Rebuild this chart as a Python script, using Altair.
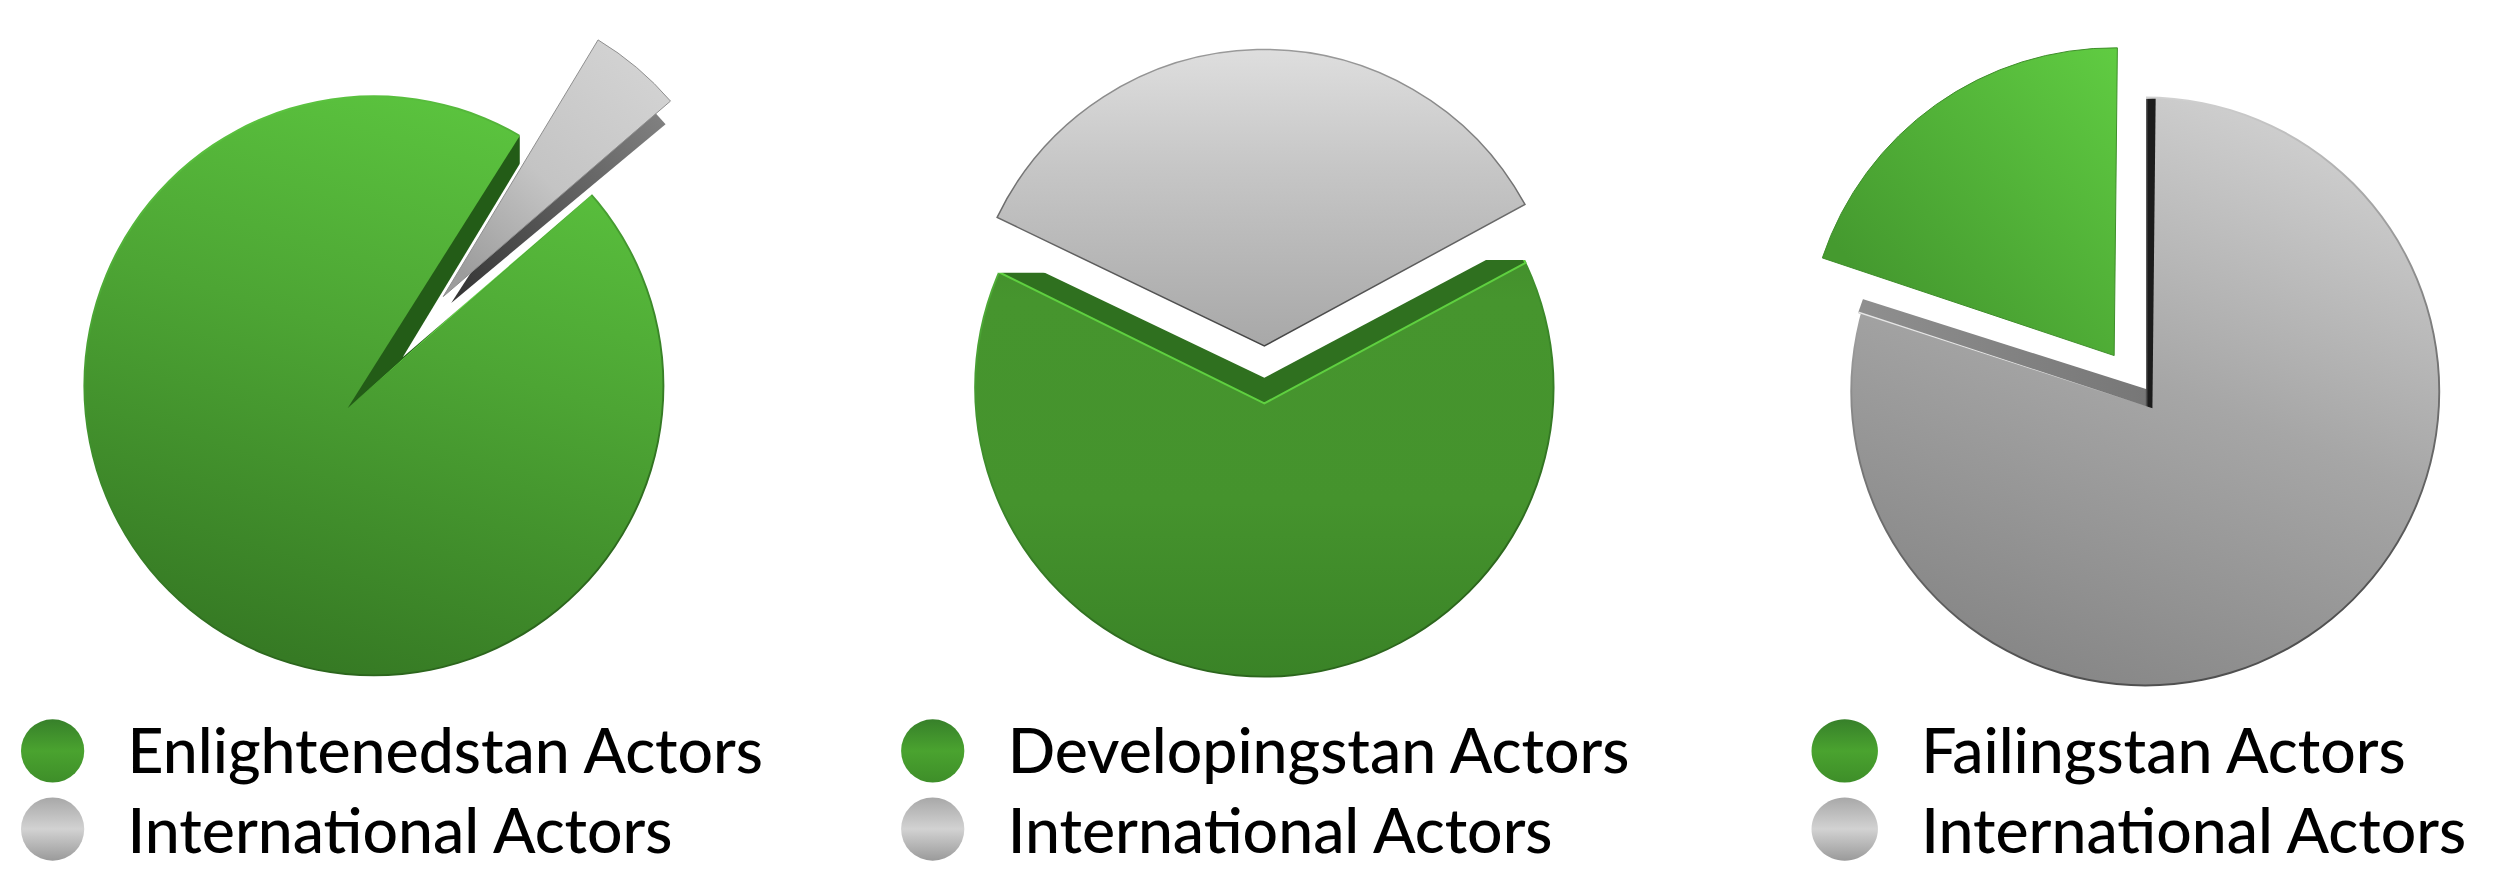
import altair as alt
import pandas as pd

# ---- values (slice extents, degrees clockwise from 12 o'clock)
pie1_international = [31.1, 49.3]
pie2_international = [295.7, 421.5]
pie3_local = [288.5, 360.6]
legend_local = ["Enlightenedstan Actors", "Developingstan Actors", "Failingstan Actors"]
legend_international = ["International Actors", "International Actors", "International Actors"]

S = 2500 / 1568


def G(stops, x1=0.0, y1=0.0, x2=0.0, y2=1.0):
    return alt.LinearGradient(
        gradient="linear", x1=x1, y1=y1, x2=x2, y2=y2,
        stops=[alt.GradientStop(color=c, offset=o) for o, c in stops],
    )


def sector(a, cx, cy, r, fill, stroke=None, sw=0.0):
    df = pd.DataFrame({"a0": [a[0]], "a1": [a[1]]})
    kw = {"radius": r * S, "fill": fill}
    if stroke is not None:
        kw["stroke"] = stroke
        kw["strokeWidth"] = sw
    else:
        kw["strokeWidth"] = 0
    return alt.Chart(df).mark_arc(**kw).encode(
        x=alt.value(cx * S - 8),
        y=alt.value(cy * S - 8),
        theta=alt.Theta("a0:Q", scale=alt.Scale(domain=[0, 360], range=[0, 6.283185307])),
        theta2=alt.Theta2("a1:Q"),
    )


def mask(x0, x1, y0, y1):
    return alt.Chart(pd.DataFrame({"k": [0]})).mark_rect(fill="#ffffff", strokeWidth=0).encode(
        x=alt.value(x0 * S - 8), x2=alt.value(x1 * S - 8),
        y=alt.value(y0 * S - 8), y2=alt.value(y1 * S - 8),
    )


GREEN1 = G([(0, "#5cc63f"), (0.45, "#4da534"), (1, "#367a24")], 0.75, 0, 0.45, 1)
GREEN2 = G([(0, "#397f27"), (0.35, "#46952e"), (0.7, "#45932d"), (1, "#3a8327")], 0, 0, 0, 1)
GREEN3 = G([(0, "#60cc42"), (1, "#459a2f")], 1, 0, 0.2, 0.8)
RIM_G = G([(0, "#62d044"), (0.6, "#3c8a2a"), (1, "#2c661d")], 0, 0, 0.3, 1)
GREY2 = G([(0, "#dedede"), (0.4, "#c6c6c6"), (1, "#a8a8a8")], 0, 0, 0, 1)
GREY3 = G([(0, "#d2d2d2"), (0.5, "#a6a6a6"), (1, "#868686")], 0.75, 0, 0.35, 1)
GREY1 = G([(0, "#d6d6d6"), (0.6, "#c4c4c4"), (1, "#9c9c9c")], 1, 0, 0.2, 1)
RIM_GREY = G([(0, "#e4e4e4"), (0.6, "#777777"), (1, "#505050")], 0, 0, 0.2, 1)
WALL3 = G([(0, "#8f8f8f"), (0.965, "#777777"), (0.975, "#1c1c1c"), (1, "#1c1c1c")], 0, 0, 1, 0)
FULL = [0, 360]

layers = [
    # pie 1
    sector(FULL, 234.5, 242, 182.2, RIM_G),
    sector(FULL, 234.5, 242, 181, GREEN1),
    sector([32.3, 48.8], 218, 256, 202, "#235c17"),
    sector([48.2, 48.8], 218, 256, 202, "#62d044"),
    sector([31.2, 49.3], 252.6, 224, 165, "#ffffff"),
    mask(326, 350, 70, 103),
    sector([33, 50.2], 283, 190, 175, G([(0, "#8a8a8a"), (1, "#333333")], 1, 0, 0, 1)),
    sector(pie1_international, 278, 186, 188, GREY1, "#8e8e8e", 1),
    # pie 2
    sector(FULL, 793, 243, 182, RIM_G),
    sector(FULL, 793, 243, 180.8, GREEN2),
    sector([296.3, 421.7], 793, 253, 186, "#2f701f", "#5fd040", 2),
    sector([295.6, 422], 793, 237, 195, "#ffffff"),
    mask(615, 665, 145, 171),
    mask(925, 970, 135, 163),
    sector(pie2_international, 793, 217, 186, GREY2, G([(0, "#9a9a9a"), (1, "#444444")]), 1.5),
    # pie 3
    sector(FULL, 1345.5, 245.5, 185, RIM_GREY),
    sector(FULL, 1345.5, 245.5, 183.8, GREY3),
    sector([287.9, 360.6], 1350, 256, 194, WALL3),
    sector([287.9, 288.2], 1350, 256, 194, "#e6e6e6"),
    sector([287.6, 360.0], 1346, 244, 200, "#ffffff"),
    sector(pie3_local, 1326, 223, 193, GREEN3, "#3f8f2b", 1),
]

LEG_G = G([(0, "#37802a"), (0.5, "#4aa32f"), (1, "#3e8e29")])
LEG_S = G([(0, "#a8a8a8"), (0.5, "#d2d2d2"), (1, "#9a9a9a")])
xs_c = [33, 585, 1157]
xs_t = [80, 632, 1205]
ROW1, ROW2 = 471, 520
BASE1, BASE2 = 485, 535
SHAPES = [
    "circle",
    "circle",
    "M-1.05,0A1.05,1 0 1,1 1.05,0A1.05,1 0 1,1 -1.05,0Z",
]

for i in range(3):
    for y, fill in ((ROW1, LEG_G), (ROW2, LEG_S)):
        layers.append(
            alt.Chart(pd.DataFrame({"k": [i]}))
            .mark_point(filled=True, shape=SHAPES[i], size=4000, fill=fill, opacity=1, strokeWidth=0)
            .encode(x=alt.value(xs_c[i] * S - 8), y=alt.value(y * S - 8))
        )
    for y, lab in ((BASE1, legend_local[i]), (BASE2, legend_international[i])):
        layers.append(
            alt.Chart(pd.DataFrame({"label": [lab]}))
            .mark_text(align="left", baseline="alphabetic", font="Lato", fontSize=62.5, fontWeight=500, color="#000000")
            .encode(x=alt.value(xs_t[i] * S - 8), y=alt.value(y * S - 8), text="label:N")
        )

chart = (
    alt.layer(*layers)
    .properties(width=2484, height=876, padding=0, background="#ffffff",
                autosize=alt.AutoSizeParams(type="none"))
    .configure_view(stroke=None, strokeWidth=0)
)
chart.save("out.html", embed_options={"renderer": "svg", "actions": False})
